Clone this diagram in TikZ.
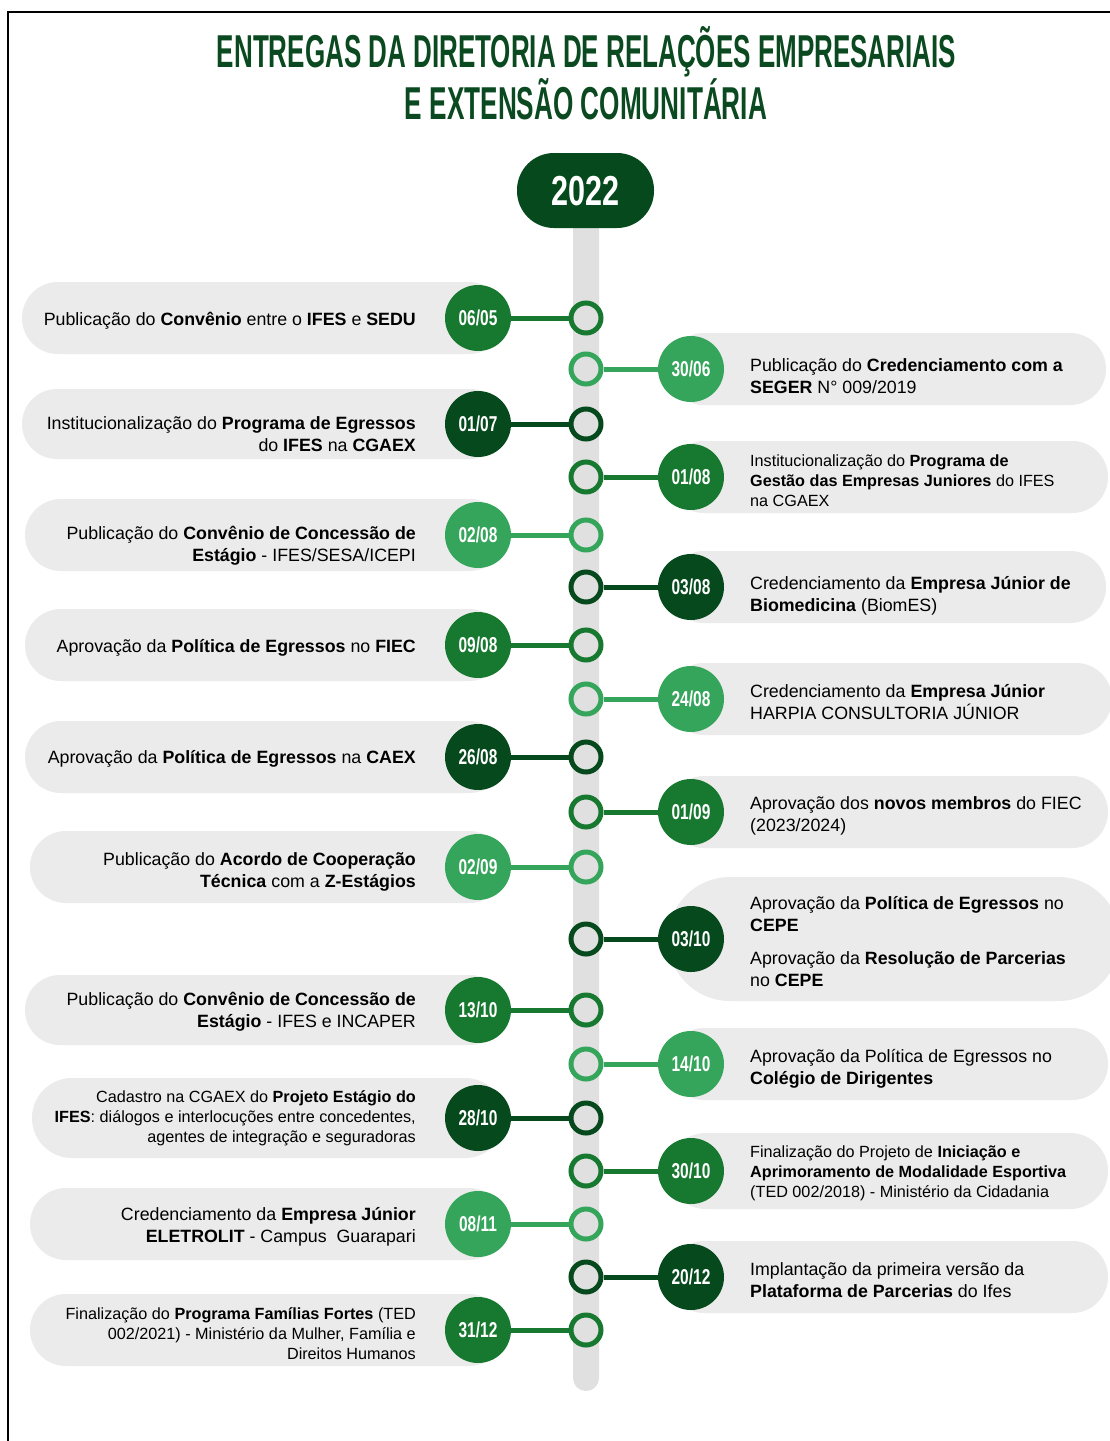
\documentclass[tikz,border=0pt]{standalone}
\usepackage{fontspec}
\usepackage{graphicx}
\setmainfont{Liberation Sans}
\newfontfamily\datefont[FakeStretch=0.72]{Liberation Sans}
\definecolor{darkg}{HTML}{05491D}
\definecolor{medg}{HTML}{17792F}
\definecolor{lightg}{HTML}{34A55B}
\definecolor{titleg}{HTML}{0B4A20}
\definecolor{pillc}{HTML}{EBEBEB}
\definecolor{barc}{HTML}{E0E0E0}
\newcommand\capfit[3]{\resizebox{#1}{#2}{\rule{0pt}{0.716em}\smash{#3}}}
\newcommand\nfont{\fontsize{17.8}{22}\selectfont}
\newcommand\smallfnt{\fontsize{16.2}{20}\selectfont}
\tikzset{
  ring/.style={circle, minimum size=30pt, inner sep=0pt, line width=5pt, fill=barc},
  datec/.style={circle, minimum size=66pt, inner sep=0pt, text=white, font=\datefont\bfseries\fontsize{21.5}{21.5}\selectfont},
  conn/.style={line width=5pt},
  pill/.style={fill=pillc},
  ltext/.style={anchor=east, align=right, inner sep=0pt},
  rtext/.style={anchor=west, align=left, inner sep=0pt},
}
% name, y, colour, date, pill left x, half height, font, text dy, text
\newcommand\Litem[9]{%
  \path[pill, rounded corners=#6pt] (#5,#2-#6) rectangle (505,#2+#6);
  \node[ring, draw=#3] (#1r) at (586,#2) {};
  \node[datec, fill=#3] (#1d) at (478,#2) {#4};
  \draw[conn, #3] (#1r) -- (#1d);
  \node[ltext, font=#7] (#1t) at (416,#2+#8) {#9};
}
% name, y, colour, date, half height, pill right x, font, text dy, text
\newcommand\Ritem[9]{%
  \path[pill, rounded corners=#5pt] (668,#2-#5) rectangle (#6,#2+#5);
  \node[ring, draw=#3] (#1r) at (586,#2) {};
  \node[datec, fill=#3] (#1d) at (691,#2) {#4};
  \draw[conn, #3] (#1r) -- (#1d);
  \node[rtext, font=#7] (#1t) at (750,#2+#8) {#9};
}
\begin{document}
\begin{tikzpicture}[x=1pt,y=-1pt]
\useasboundingbox (0,0) rectangle (1110,1441);
\fill[white] (0,0) rectangle (1110,1441);
\draw[line width=2pt] (8,1441) -- (8,12) -- (1110,12);
% title
\node[text=titleg, inner sep=0pt] (t1) at (586.5,51) {\capfit{739pt}{33pt}{\bfseries ENTREGAS DA DIRETORIA DE RELAÇÕES EMPRESARIAIS}};
\node[text=titleg, inner sep=0pt] (t2) at (586,102.5) {\capfit{362pt}{33pt}{\bfseries E EXTENSÃO COMUNITÁRIA}};
% bar
\fill[barc, rounded corners=13pt] (573,200) rectangle (599,1391);
\node[fill=darkg, rounded corners=37pt, minimum width=137pt, minimum height=75pt, inner sep=0pt, text=white] (year) at (585.5,190.5) {\capfit{68pt}{30pt}{\bfseries 2022}};
% left items
\Litem{a}{318}{medg}{06/05}{22}{36}{\nfont}{3}{Publicação do \textbf{Convênio} entre o \textbf{IFES} e \textbf{SEDU}}
\Litem{b}{424}{darkg}{01/07}{22}{35}{\nfont}{10}{Institucionalização do \textbf{Programa de Egressos}\\ do \textbf{IFES} na \textbf{CGAEX}}
\Litem{c}{535}{lightg}{02/08}{25}{36}{\nfont}{11}{Publicação do \textbf{Convênio de Concessão de}\\ \textbf{Estágio} - IFES/SESA/ICEPI}
\Litem{d}{645}{medg}{09/08}{25}{36}{\nfont}{3}{Aprovação da \textbf{Política de Egressos} no \textbf{FIEC}}
\Litem{e}{757}{darkg}{26/08}{25}{36}{\nfont}{2}{Aprovação da \textbf{Política de Egressos} na \textbf{CAEX}}
\Litem{f}{867}{lightg}{02/09}{30}{36}{\nfont}{5}{Publicação do \textbf{Acordo de Cooperação}\\ \textbf{Técnica} com a \textbf{Z-Estágios}}
\Litem{g}{1010}{medg}{13/10}{25}{35}{\nfont}{2}{Publicação do \textbf{Convênio de Concessão de}\\ \textbf{Estágio} - IFES e INCAPER}
\Litem{h}{1118}{darkg}{28/10}{32}{40}{\smallfnt}{0}{Cadastro na CGAEX do \textbf{Projeto Estágio do}\\ \textbf{IFES}: diálogos e interlocuções entre concedentes,\\ agentes de integração e seguradoras}
\Litem{i}{1224}{lightg}{08/11}{30}{36}{\nfont}{3}{Credenciamento da \textbf{Empresa Júnior}\\ \textbf{ELETROLIT} - Campus\ \ Guarapari}
\Litem{j}{1330}{medg}{31/12}{30}{36}{\smallfnt}{4}{Finalização do \textbf{Programa Famílias Fortes} (TED\\ 002/2021) - Ministério da Mulher, Família e\\ Direitos Humanos}
% right items
\Ritem{k}{369}{lightg}{30/06}{36}{1106}{\nfont}{7}{Publicação do \textbf{Credenciamento com a}\\ \textbf{SEGER} N° 009/2019}
\Ritem{l}{477}{medg}{01/08}{36}{1108}{\smallfnt}{4}{Institucionalização do \textbf{Programa de}\\ \textbf{Gestão das Empresas Juniores} do IFES\\ na CGAEX}
\Ritem{m}{587}{darkg}{03/08}{36}{1106}{\nfont}{9}{Credenciamento da \textbf{Empresa Júnior de}\\ \textbf{Biomedicina} (BiomES)}
\Ritem{n}{699}{lightg}{24/08}{36}{1112}{\nfont}{3}{Credenciamento da \textbf{Empresa Júnior}\\ HARPIA CONSULTORIA JÚNIOR}
\Ritem{o}{812}{medg}{01/09}{36}{1108}{\nfont}{4}{Aprovação dos \textbf{novos membros} do FIEC\\ (2023/2024)}
\Ritem{p}{939}{darkg}{03/10}{62}{1120}{\nfont}{3}{Aprovação da \textbf{Política de Egressos} no\\ \textbf{CEPE}\\[11pt] Aprovação da \textbf{Resolução de Parcerias}\\ no \textbf{CEPE}}
\Ritem{q}{1064}{lightg}{14/10}{36}{1108}{\nfont}{5}{Aprovação da Política de Egressos no\\ \textbf{Colégio de Dirigentes}}
\Ritem{r}{1171}{medg}{30/10}{38}{1108}{\smallfnt}{2}{Finalização do Projeto de \textbf{Iniciação e}\\ \textbf{Aprimoramento de Modalidade Esportiva}\\ (TED 002/2018) - Ministério da Cidadania}
\Ritem{s}{1277}{darkg}{20/12}{36}{1108}{\nfont}{3}{Implantação da primeira versão da\\ \textbf{Plataforma de Parcerias} do Ifes}
\end{tikzpicture}
\end{document}
